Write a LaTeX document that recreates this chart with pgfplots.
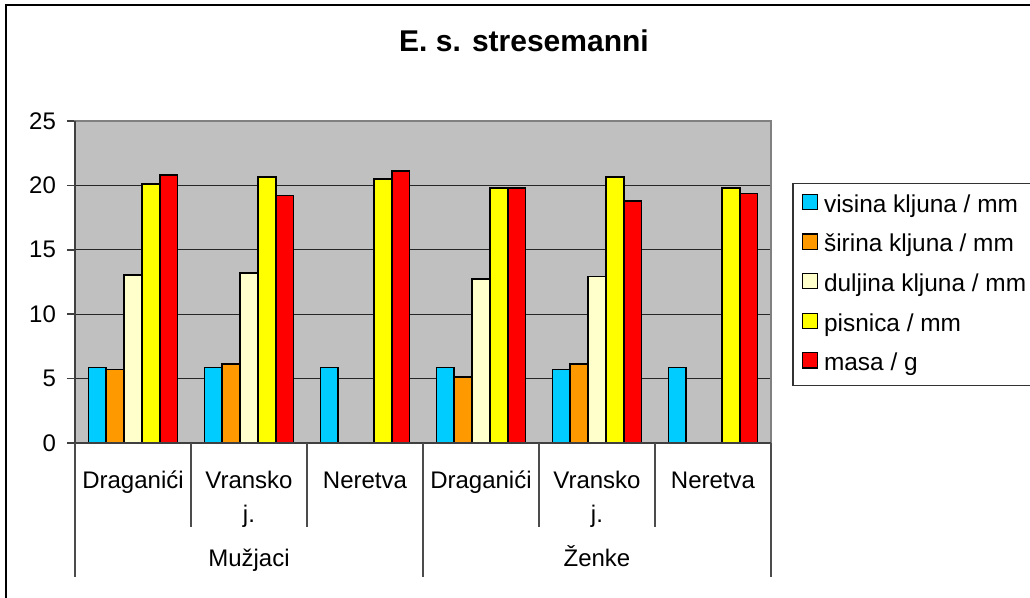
\documentclass[border=0pt]{standalone}
\usepackage{fontspec}
\setmainfont{Liberation Sans}
\usepackage{pgfplots}
\pgfplotsset{compat=1.18}
\definecolor{cB}{HTML}{00CCFF}
\definecolor{cO}{HTML}{FF9900}
\definecolor{cC}{HTML}{FFFFCC}
\definecolor{cY}{HTML}{FFFF00}
\definecolor{cR}{HTML}{FF0000}
\definecolor{bg}{HTML}{C0C0C0}
\newcommand{\lf}{\fontsize{12}{17}\selectfont}
\newcommand{\gf}{\fontsize{12.2}{17}\selectfont}
\begin{document}
\begin{tikzpicture}
\useasboundingbox (0,0) rectangle (515pt,-299pt);
\clip (0,0) rectangle (515pt,-299pt);
\fill[white] (0,0) rectangle (515pt,-299pt);
\draw[line width=1pt] (3pt,-2.5pt) rectangle (540pt,-330pt);
\node[font=\fontsize{15}{17}\selectfont\bfseries, anchor=base, inner sep=0pt] at (262pt,-26pt) {E. s. stresemanni};
\begin{axis}[
  at={(37.5pt,-221.5pt)}, anchor=south west,
  width=348pt, height=161pt, scale only axis,
  clip=false,
  xmin=-0.5, xmax=5.5, ymin=0, ymax=25,
  ytick={0,5,10,15,20,25},
  xtick={0,1,2,3,4,5},
  xticklabels={{\strut Draganići},{\strut Vransko\\\strut j.},{\strut Neretva},{\strut Draganići},{\strut Vransko\\\strut j.},{\strut Neretva}},
  xticklabel style={font=\lf, align=center, anchor=north, inner sep=0pt, yshift=-6.5pt},
  yticklabel style={font=\lf, xshift=-2pt},
  /pgf/number format/assume math mode=true,
  xtick style={draw=none},
  ytick pos=left,
  ytick style={draw=black!75, line width=0.75pt},
  tick align=outside, major tick length=4pt,
  ymajorgrids, grid style={black!85, line width=0.5pt},
  axis background/.style={fill=bg},
  axis line style={draw=black!50, line width=0.75pt},
  ybar=0pt, bar width=0.154,
  legend cell align=left,
  legend image code/.code={\draw[#1, line width=0.6pt] (0pt,-1.6pt) rectangle (7.5pt,6pt); \path (10.5pt,0pt);},
  legend style={at={(1.0302,0.8075)}, anchor=north west, draw=black!80, line width=0.75pt, fill=white, font=\gf,
    inner xsep=4.5pt, inner ysep=5pt, row sep=8pt,
    nodes={text height=8.5pt, text depth=2.5pt, inner sep=0pt},
    /tikz/every odd column/.append style={text width=110pt}},
]
\addplot[fill=cB, draw=black, line width=0.75pt, bar shift=-0.308] coordinates {(0,5.87) (1,5.87) (2,5.87) (3,5.87) (4,5.71) (5,5.87)};
\addplot[fill=cO, draw=black, line width=0.75pt, bar shift=-0.154] coordinates {(0,5.71) (1,6.15) (3,5.14) (4,6.15)};
\addplot[fill=cC, draw=black, line width=0.75pt, bar shift=0] coordinates {(0,13.05) (1,13.18) (3,12.74) (4,12.92)};
\addplot[fill=cY, draw=black, line width=0.75pt, bar shift=0.154] coordinates {(0,20.1) (1,20.67) (2,20.5) (3,19.8) (4,20.67) (5,19.8)};
\addplot[fill=cR, draw=black, line width=0.75pt, bar shift=0.308] coordinates {(0,20.8) (1,19.22) (2,21.1) (3,19.8) (4,18.8) (5,19.38)};
\legend{visina kljuna / mm, širina kljuna / mm, duljina kljuna / mm, pisnica / mm, masa / g}
\draw[black!75, line width=0.75pt] (axis cs:-0.5,0) -- (axis cs:-0.5,25);
\draw[black!75, line width=0.75pt] (axis cs:-0.5,0) -- (axis cs:5.5,0);
\pgfplotsinvokeforeach{0.5,1.5,3.5,4.5}{\draw[black!70, line width=0.75pt] (axis cs:#1,0) -- ([yshift=-42pt]axis cs:#1,0);}
\pgfplotsinvokeforeach{-0.5,2.5,5.5}{\draw[black!70, line width=0.75pt] (axis cs:#1,0) -- ([yshift=-67pt]axis cs:#1,0);}
\node[font=\lf, anchor=base, inner sep=0pt] at ([yshift=-62pt]axis cs:1,0) {Mužjaci};
\node[font=\lf, anchor=base, inner sep=0pt] at ([yshift=-62pt]axis cs:4,0) {Ženke};
\end{axis}
\end{tikzpicture}
\end{document}
